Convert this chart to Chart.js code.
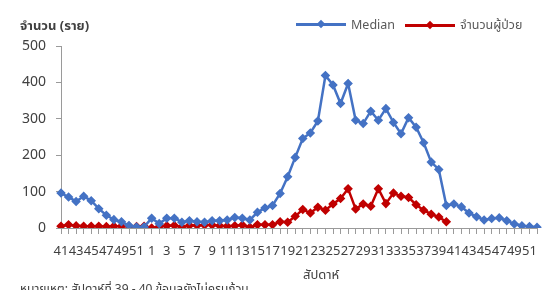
<!DOCTYPE html>
<html>
<head>
<meta charset="utf-8">
<script src="https://cdn.jsdelivr.net/npm/chart.js@4"></script>
<style>
  html, body { margin: 0; padding: 0; background: #fff; }
  body { width: 549px; height: 290px; position: relative; overflow: hidden;
         font-family: "Noto Sans", "Noto Sans Thai", sans-serif; color: #404040; }
  #wrap { position: absolute; left: 0; top: 0; width: 549px; height: 290px; }
  .ytitle { position: absolute; left: 20px; top: 16px; font-size: 13px; font-weight: bold; color: #404040; }
  .legend { position: absolute; top: 16px; font-size: 12.5px; color: #595959; display: flex; align-items: center; }
  .legend .ln { position: relative; width: 50px; height: 3px; margin-right: 5px; }
  .legend .ln i { position: absolute; left: 22px; top: -2px; width: 6px; height: 6px; transform: rotate(45deg); }
  .xtitle { position: absolute; left: 303px; top: 265px; font-size: 13px; color: #404040; }
  .note { position: absolute; left: 20px; top: 280px; font-size: 12px; color: #404040; white-space: nowrap; }
</style>
</head>
<body>
<div id="wrap"><canvas id="myChart" width="549" height="290"></canvas></div>
<div class="ytitle">จำนวน (ราย)</div>
<div class="legend" style="left:296px"><span class="ln" style="background:#4472C4"><i style="background:#4472C4"></i></span>Median</div>
<div class="legend" style="left:405px"><span class="ln" style="background:#C00000"><i style="background:#C00000"></i></span>จำนวนผู้ป่วย</div>
<div class="xtitle">สัปดาห์</div>
<div class="note">หมายเหตุ: สัปดาห์ที่ 39 - 40 ข้อมูลยังไม่ครบถ้วน</div>
<script>
// weeks 41-52 of previous year, then weeks 1-52
const weeks = [41, 42, 43, 44, 45, 46, 47, 48, 49, 50, 51, 52,
    1, 2, 3, 4, 5, 6, 7, 8, 9, 10, 11, 12, 13, 14, 15, 16, 17, 18, 19, 20,
    21, 22, 23, 24, 25, 26, 27, 28, 29, 30, 31, 32, 33, 34, 35, 36, 37, 38, 39, 40,
    41, 42, 43, 44, 45, 46, 47, 48, 49, 50, 51, 52];

const median = [96, 85, 73, 87, 75, 53, 35, 23, 17, 7, 3, 3,
    27, 12, 27, 27, 16, 20, 17, 16, 20, 20, 22, 29, 27, 22, 43, 55, 62, 95,
    141, 194, 246, 261, 294, 419, 393, 342, 397, 296, 287, 321, 296, 328, 290, 259,
    303, 277, 234, 181, 161, 62,
    66, 58, 41, 31, 22, 26, 28, 20, 11, 6, 4, 2];

const patients = [5, 9, 6, 5, 5, 5, 4, 5, 5, 5, 4, 5,
    0, 4, 6, 7, 3, 7, 7, 8, 8, 6, 5, 6, 8, 2, 9, 9, 9, 17,
    16, 32, 51, 41, 57, 49, 66, 81, 108, 52, 66, 60, 108, 67, 96, 87,
    84, 64, 49, 38, 30, 17,
    null, null, null, null, null, null, null, null, null, null, null, null];

const yTicks = [0, 100, 200, 300, 400, 500];

document.addEventListener('DOMContentLoaded', function() {
    const ctx = document.getElementById('myChart');
    const axisGray = '#9a9a9a';
    const textGray = '#404040';

    new Chart(ctx, {
        type: 'line',
        data: {
            labels: weeks,
            datasets: [{
                label: 'Median',
                data: median,
                borderColor: '#4472C4',
                backgroundColor: '#4472C4',
                borderWidth: 2.5,
                pointStyle: 'rectRot',
                pointRadius: 3,
                tension: 0
            }, {
                label: 'จำนวนผู้ป่วย',
                data: patients,
                borderColor: '#C00000',
                backgroundColor: '#C00000',
                borderWidth: 2.5,
                pointStyle: 'rectRot',
                pointRadius: 3,
                tension: 0
            }]
        },
        options: {
            responsive: false,
            animation: false,
            layout: { padding: { top: 46, right: 12, left: 0, bottom: 0 } },
            scales: {
                x: {
                    offset: false,
                    grid: { drawOnChartArea: false, color: axisGray, tickLength: 6, offset: false },
                    border: { color: axisGray },
                    ticks: {
                        autoSkip: false,
                        maxRotation: 0,
                        minRotation: 0,
                        padding: 9,
                        color: textGray,
                        font: { family: '"Noto Sans", sans-serif', size: 13 },
                        callback: function(val, idx) {
                            return idx % 2 === 0 ? weeks[idx] : '';
                        }
                    },
                    afterFit: function(scale) { scale.height = 62; }
                },
                y: {
                    min: 0,
                    max: 500,
                    afterBuildTicks: function(scale) {
                        scale.ticks = yTicks.map(v => ({ value: v }));
                    },
                    grid: { drawOnChartArea: false, color: axisGray, tickLength: 5 },
                    border: { color: axisGray },
                    ticks: {
                        padding: 10,
                        color: textGray,
                        font: { family: '"Noto Sans", sans-serif', size: 14 }
                    },
                    afterFit: function(scale) { scale.width = 61; }
                }
            },
            plugins: {
                legend: { display: false },
                tooltip: { enabled: false }
            }
        }
    });
});
</script>
</body>
</html>
